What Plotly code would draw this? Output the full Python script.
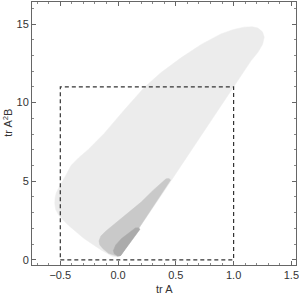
import plotly.graph_objects as go

# Light region (outer)
light_x = [0.01, -0.05, -0.147, -0.294, -0.43, -0.51, -0.54, -0.548, -0.545, -0.535, -0.515, -0.494, -0.45, -0.407, -0.34, -0.26, -0.12, 0.05, 0.225, 0.37, 0.545, 0.72, 0.89, 1.0, 1.09, 1.16, 1.21, 1.25, 1.265, 1.25, 1.21, 1.15, 0.866, 0.46, 0.02]
light_y = [0.19, 0.22, 0.63, 1.35, 2.2, 2.8, 3.2, 3.6, 3.95, 4.25, 4.55, 4.8, 5.4, 6.0, 6.5, 7.0, 8.04, 9.5, 10.95, 11.9, 12.85, 13.7, 14.37, 14.65, 14.8, 14.82, 14.75, 14.5, 14.15, 13.7, 13.2, 12.66, 9.5, 5.05, 0.25]

# Medium region
mid_x = [0.0, -0.08, -0.13, -0.158, -0.165, -0.15, -0.11, -0.06, 0.11, 0.2, 0.3, 0.38, 0.415, 0.44, 0.455, 0.02]
mid_y = [0.22, 0.4, 0.7, 0.95, 1.2, 1.5, 1.8, 2.1, 3.16, 3.67, 4.4, 4.95, 5.15, 5.17, 5.08, 0.25]

# Dark region
dark_x = [0.0, -0.035, -0.04, -0.02, 0.03, 0.087, 0.125, 0.15, 0.175, 0.19, 0.02]
dark_y = [0.22, 0.4, 0.6, 0.95, 1.35, 1.7, 1.92, 2.03, 2.04, 1.95, 0.25]

# Dashed box
box_x = [-0.5, 1.0, 1.0, -0.5, -0.5]
box_y = [0, 0, 11, 11, 0]

x_ticks = [-0.5, 0.0, 0.5, 1.0, 1.5]
y_ticks = [0, 5, 10, 15]

FONT = "Liberation Sans, Arial"

fig = go.Figure()
for xs, ys, col in [(light_x, light_y, "#ececec"), (mid_x, mid_y, "#c9c9c9"), (dark_x, dark_y, "#ababab")]:
    fig.add_trace(go.Scatter(x=xs, y=ys, fill="toself", fillcolor=col, mode="lines",
                             line=dict(color=col, width=0.5),
                             hoverinfo="skip", showlegend=False))
fig.add_trace(go.Scatter(x=box_x, y=box_y, mode="lines",
                         line=dict(color="#333333", width=1.2, dash="4px,3px"),
                         hoverinfo="skip", showlegend=False))

axis_common = dict(showgrid=False, zeroline=False, showline=True, linecolor="#666666", linewidth=1,
                   mirror="allticks", ticks="inside", ticklen=4, tickcolor="#666666",
                   automargin=False, ticklabeloverflow="allow",
                   tickfont=dict(family=FONT, size=11, color="#333333"))
fig.update_xaxes(range=[-0.745, 1.54], tickvals=x_ticks, tickformat=".1f",
                 minor=dict(dtick=0.1, ticks="inside", ticklen=2, tickcolor="#888888"),
                 **axis_common)
fig.update_yaxes(range=[-0.33, 16.4], tickvals=y_ticks,
                 minor=dict(dtick=1, ticks="inside", ticklen=2, tickcolor="#888888"),
                 **axis_common)
fig.add_annotation(text="tr A", xref="paper", yref="paper", x=0.5, y=-0.092,
                   showarrow=False, xanchor="center", yanchor="middle",
                   font=dict(family=FONT, size=11, color="#333333"))
fig.add_annotation(text="tr A<sup>2</sup>B", xref="paper", yref="paper", x=-0.092, y=0.54,
                   showarrow=False, xanchor="center", yanchor="middle", textangle=-90,
                   font=dict(family=FONT, size=11, color="#333333"))
fig.update_layout(width=299, height=295, margin=dict(l=32, r=3, t=2, b=30),
                  plot_bgcolor="white", paper_bgcolor="white")
fig.write_html("out.html", config={"displayModeBar": False},
               post_script="document.body.style.margin='0';document.body.style.overflow='hidden';")
